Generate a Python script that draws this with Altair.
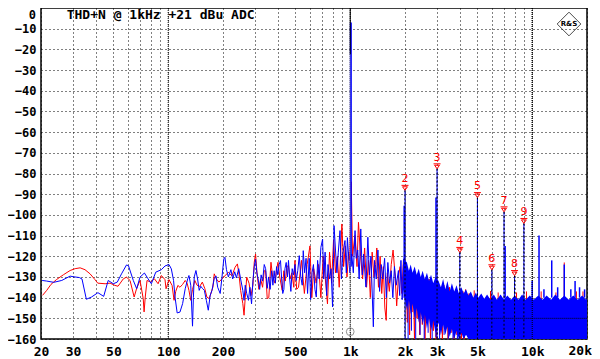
import altair as alt
import pandas as pd

TITLE = "THD+N @ 1kHz +21 dBu ADC"

X_GRID = [20, 30, 40, 50, 60, 70, 80, 90, 100, 200, 300, 400, 500, 600, 700, 800, 900,
          1000, 2000, 3000, 4000, 5000, 6000, 7000, 8000, 9000, 10000, 20000]
X_LABELS = [20, 30, 50, 100, 200, 500, 1000, 2000, 3000, 5000, 10000, 20000]
Y_TICKS = [0, -10, -20, -30, -40, -50, -60, -70, -80, -90, -100, -110, -120, -130, -140, -150, -160]
DECADES = [100, 1000, 10000]

# ---- blue trace (Hz, dBr) ----
blue_f = [20.3, 21.5, 23.5, 26.0, 28.9, 30.1, 32.5, 33.6, 35.5, 37.9, 41.1, 44.2, 46.8, 49.9, 52.5,
          55.4, 59.0, 60.5, 64.3, 67.1, 70.0, 74.0, 77.5, 80.8, 85.4, 91.7, 96.0, 101, 104, 107,
          109, 112, 116, 120, 124, 128, 130, 133, 136, 137.5, 139, 142, 145, 148, 151, 154, 158,
          162, 166, 170, 174, 179, 183, 187, 193, 197, 202, 205, 209, 214, 221, 226, 232, 237,
          244, 250, 257, 261, 265, 270, 276, 281, 287, 292, 297, 302, 307, 312, 318, 324, 330,
          337, 343, 350, 356, 363, 370, 376, 382, 388, 394, 400, 407, 414, 420, 426, 432, 438,
          445, 452, 458, 465, 472, 480, 488, 497, 505, 515, 525, 535, 545, 552, 562, 572, 583,
          595, 606, 617, 628, 640, 651, 662, 675, 690, 705, 715, 728, 742, 755, 770, 785, 800,
          810, 815, 830, 845, 860, 879, 895, 910, 936, 952, 965, 980, 995, 1020, 1040, 1063,
          1080, 1100, 1120, 1143, 1165, 1185, 1220, 1250, 1275, 1300, 1340, 1360, 1390, 1420,
          1450, 1480, 1510, 1545, 1580, 1610, 1645, 1680, 1715, 1750, 1790, 1840, 1870, 1900,
          1930, 1960]
blue_db = [-131.7, -132.0, -132.6, -131.7, -129.6, -129.9, -130.3, -131, -140.8, -139.7, -137.6,
           -139.4, -131.7, -133.3, -132.5, -128.5, -124.2, -124.6, -131.7, -135.7, -130.1, -128.1,
           -130.9, -133.3, -127.7, -126.5, -124.7, -124.0, -126.1, -131.7, -139.7, -147.4, -147.0,
           -142.9, -135.7, -130.9, -129.3, -134, -153.8, -140, -130, -126.9, -131, -136.5, -134.5,
           -135.5, -136.5, -141.3, -146.1, -139, -136.5, -130.9, -129.5, -135, -138, -131, -121.3,
           -120.5, -126.5, -130, -126.5, -131, -127.5, -130.5, -126, -131, -136.5, -141.3, -134,
           -138, -141.3, -135, -143, -132, -125, -121.5, -128, -131, -136, -129, -132, -124, -126,
           -135.5, -130, -136, -127, -134, -127, -133, -125, -129, -124, -122.1, -131, -138, -136,
           -126, -123, -130, -122, -131, -137, -126, -129, -124, -131.7, -127, -119.7, -130, -134,
           -117.3, -128, -121, -138, -121, -141, -128, -124, -136, -139.7, -122, -131, -115.7,
           -111.7, -131, -118, -139, -124, -131, -126, -144.5, -121, -105.2, -117, -128, -118,
           -107.6, -131, -119, -112.4, -128, -111, -120, -128, -118.9, -128, -107.6, -121, -117,
           -131, -106.8, -129, -119, -134.9, -110.8, -129, -120, -154.1, -122, -131, -117, -137,
           -124, -131, -121, -140, -123, -133, -127, -140, -125, -134, -126.9, -139, -122, -141,
           -124]

# ---- red trace (Hz, dBr) ----
red_f = [20.4, 21.5, 22.7, 24.3, 26.6, 28.9, 30.8, 32.8, 34.9, 37.2, 39.6, 41, 45, 47.9, 51, 53,
         56.7, 59, 61.7, 65, 67, 70, 72.9, 73.7, 74.8, 76.5, 80, 84, 88, 91.7, 96, 97.3, 101, 105,
         107.7, 110, 113, 116, 120, 124, 127, 130, 133, 136, 140, 144, 149, 154, 159, 163, 168,
         176, 179, 184, 190, 197, 205, 214, 224, 233, 240, 245, 250, 257, 261, 265, 270, 278, 285,
         292, 297, 302, 308, 315, 322, 330, 337, 343, 350, 357, 362, 367, 375, 386, 393, 401, 410,
         423, 432, 440, 449, 458, 467, 478, 490, 497, 508, 520, 540, 560, 580, 601, 615, 630, 650,
         670, 690, 710, 730, 750, 770, 790, 810, 830, 850, 870, 900, 920, 940, 960, 980, 995, 1013,
         1030, 1060, 1090, 1110, 1140, 1170, 1200, 1230, 1260, 1290, 1320, 1350, 1380, 1400, 1430,
         1460, 1490, 1520, 1550, 1577, 1600, 1640, 1680, 1720, 1760, 1800, 1840, 1880, 1920, 1960,
         2030, 2060, 2090, 2120, 2150, 2185, 2220, 2255, 2290, 2330, 2370, 2410, 2450, 2490, 2530,
         2575, 2620, 2665, 2710, 2760, 2810, 2860, 2910, 2965, 3050, 3100, 3150, 3210, 3270, 3330,
         3390, 3450, 3510, 3580, 3650, 3720, 3790, 3860, 3930, 4080, 4160, 4240, 4320, 4410, 4500,
         4600, 4700, 4800, 4900, 5050]
red_db = [-138.9, -136.5, -133.6, -131.3, -128.9, -126.9, -126, -125.6, -126.5, -128.5, -131.3, -133,
          -133.3, -133, -134.1, -134.5, -130.9, -130.1, -131.7, -139.7, -135.7, -131.7, -140.5,
          -146.9, -139.7, -131.7, -132.5, -130.9, -133.3, -129.3, -131.3, -135.7, -131.3, -134.1,
          -141.3, -137, -134.1, -135, -133.6, -131.7, -133, -136.5, -141.3, -136, -131.7, -134,
          -134.6, -132.5, -135.7, -139.7, -140.5, -134.9, -128.5, -131, -132.5, -131, -129.5,
          -127.7, -129.5, -125.3, -123.7, -129, -136.5, -142.9, -148.5, -140, -130.1, -133, -139,
          -134, -122.9, -118.9, -129, -136, -131, -135, -127, -127, -140.5, -140, -131, -122.9,
          -130, -133, -127, -122.9, -130, -136.5, -127, -132, -125, -124.5, -131, -128, -135, -122,
          -136, -135, -122, -138, -124, -115, -140, -126, -133, -124, -140, -120, -131, -143, -118,
          -133, -112, -128, -120, -135, -104.4, -125, -115, -130, -118, -122, -84, -120, -110, -125,
          -103.6, -120, -131, -116, -135, -122, -140, -118, -130, -124, -116, -135, -120, -138,
          -125, -145, -151, -128, -137, -124, -117, -128, -144, -130, -125, -138, -122,
          -127, -152, -130, -158, -128, -147, -131, -160, -130, -150, -129, -158, -132, -153, -130,
          -160, -133, -149, -131, -160, -134, -156, -132, -160, -133, -158, -135, -160, -134, -152,
          -136, -160, -135, -157, -137, -160, -136, -158, -138, -160, -137, -160, -139, -158, -138,
          -160, -140, -160, -139, -160]

# ---- dense blue noise band above 2 kHz (Hz, upper dB, lower dB) ----
band_f = [1950, 2050, 2100, 2150, 2200, 2260, 2320, 2380, 2440, 2500, 2570, 2640, 2710, 2780, 2860,
          2940, 3060, 3150, 3240, 3330, 3420, 3520, 3620, 3730, 3840, 3950, 4080, 4200, 4330, 4460,
          4600, 4750, 4900, 5050, 5250, 5450, 5650, 5900, 6150, 6400, 6700, 7000, 7300, 7650, 8000,
          8400, 8800, 9200, 9700, 10200, 10800, 11400, 12000, 12700, 13400, 14200, 15000, 15900,
          16800, 17800, 18800, 19800, 20000]
band_top = [-121, -123, -127, -124, -128, -125, -129, -126, -130, -127, -131, -128, -132, -129, -133,
            -130, -132, -135, -131, -136, -132, -137, -133, -137, -134, -138, -135, -138, -136, -139,
            -137, -140, -137.5, -140, -138, -140.5, -138.5, -141, -138.5, -141, -138.5, -141, -139,
            -141, -139, -141, -138.5, -141, -139, -141, -139, -141, -139, -141, -138.5, -141, -139,
            -141, -139, -141, -139, -141, -140]
band_bot = [-136, -146, -141, -148, -143, -150, -145, -152, -147, -153, -148, -155, -150, -156, -151,
            -157, -152, -158, -153, -158, -154, -159, -155, -160, -156, -160, -157, -160, -158, -160,
            -160, -160, -160, -160, -160, -160, -160, -160, -160, -160, -160, -160, -160, -160, -160,
            -160, -160, -160, -160, -160, -160, -160, -160, -160, -160, -160, -160, -160, -160, -160,
            -160, -160, -160]

# deep blue noise lines inside the band region
deep_f = [2080, 2170, 2290, 2420, 2550, 2680, 2820, 2960, 3100, 3280, 3460, 3670, 3880]
deep_hi = [-140, -140, -140, -140, -140, -140, -140, -140, -140, -140, -140, -140, -140]
deep_lo = [-160, -156, -160, -158, -160, -157, -160, -159, -160, -158, -160, -160, -160]

# isolated blue spurs
bs_f = [1980, 2960, 7100, 10000, 10900, 11600, 12800, 13800, 15000, 16300, 17200, 18200, 19400]
bs_hi = [-95.6, -91.6, -115, -132, -110, -136, -122, -135, -124, -136, -132, -135, -136]
bs_lo = [-140, -140, -140, -140, -140, -140, -140, -140, -140, -140, -140, -140, -140]

# red tips peeking above the band
rs_f = [4300, 4800, 5900, 6500, 8200, 9300, 11200, 13500, 15000, 17500, 19000]
rs_hi = [-136, -136.5, -136.8, -137.5, -137.5, -137, -137, -137.5, -123, -137, -137]
rs_lo = [-150, -150, -150, -150, -150, -150, -150, -150, -150, -150, -150]

# harmonics
harm_n = ["2", "3", "4", "5", "6", "7", "8", "9"]
harm_f = [2000, 3000, 4000, 5000, 6000, 7000, 8000, 9000]
harm_db = [-88.1, -77.7, -118.1, -91.6, -126.5, -98.5, -129.3, -104.1]
harm_lo = [-160, -160, -160, -160, -160, -160, -160, -160]

# fundamental (1 kHz)
fund_f = [1000]
fund_black_hi, fund_black_lo = [0], [-22.5]
fund_blue_f = [1008]
fund_blue_hi, fund_blue_lo = [-7], [-125]
cursor_f, cursor_hi, cursor_db = [1000], [-22.5], [-156.5]

# overlay cursor lines
over_v_f = [10000]
over_h_f, over_h_f2, over_h_db = [3700], [20000], [-150]

# ---------------------------------------------------------------
W, H = 546, 331
xs = alt.Scale(type="log", domain=[20, 20000], nice=False)
ys = alt.Scale(domain=[-160, 0], nice=False, zero=False)
lab_list = ",".join(str(v) for v in X_LABELS[:-1])
label_expr = ("indexof([" + lab_list + "], datum.value) >= 0 ? "
              "(datum.value >= 1000 ? (datum.value / 1000) + 'k' : '' + datum.value) : ''")
FONT = "DejaVu Sans Mono"
xaxis = alt.Axis(values=X_GRID, labelExpr=label_expr, title=None, grid=True, ticks=False,
                 domain=False, labelFont=FONT, labelFontWeight="bold", labelFontSize=13,
                 labelColor="black", labelPadding=6, gridColor="black", gridDash=[1, 3],
                 gridOpacity=1, labelFlush=False, labelOverlap=False)
yaxis = alt.Axis(values=Y_TICKS[1:], title=None, grid=True, ticks=False, domain=False,
                 labelFont=FONT, labelFontWeight="bold", labelFontSize=12, labelColor="black",
                 labelPadding=5, gridColor="black", gridDash=[1, 3], gridOpacity=1,
                 labelFlush=False, labelOverlap=False)


def X(field):
    return alt.X(field, type="quantitative", scale=xs, axis=xaxis)


def Y(field):
    return alt.Y(field, type="quantitative", scale=ys, axis=yaxis)


df_dec = pd.DataFrame({"f": DECADES, "hi": [0] * len(DECADES), "lo": [-160] * len(DECADES)})
df_blue = pd.DataFrame({"f": blue_f, "db": blue_db})
df_red = pd.DataFrame({"f": red_f, "db": red_db})
df_band = pd.DataFrame({"f": band_f, "top": band_top, "bot": band_bot})
df_deep = pd.DataFrame({"f": deep_f, "hi": deep_hi, "lo": deep_lo})
df_bs = pd.DataFrame({"f": bs_f, "hi": bs_hi, "lo": bs_lo})
df_rs = pd.DataFrame({"f": rs_f, "hi": rs_hi, "lo": rs_lo})
df_h = pd.DataFrame({"f": harm_f, "db": harm_db, "lo": harm_lo, "n": harm_n})
df_fb = pd.DataFrame({"f": fund_f, "hi": fund_black_hi, "lo": fund_black_lo})
df_fu = pd.DataFrame({"f": fund_blue_f, "hi": fund_blue_hi, "lo": fund_blue_lo})
df_cur = pd.DataFrame({"f": cursor_f, "hi": cursor_hi, "lo": cursor_db})
df_ov = pd.DataFrame({"f": over_v_f, "hi": [0], "lo": [-160]})
df_oh = pd.DataFrame({"f": over_h_f, "f2": over_h_f2, "db": over_h_db})
last_lab = str(X_LABELS[-1] // 1000) + "k"
df_t = pd.DataFrame({"t": [TITLE], "logo": ["R&S"], "zero": [str(Y_TICKS[0])], "last": [last_lab]})

decade = alt.Chart(df_dec).mark_rule(color="black", strokeWidth=1, strokeDash=[1, 1]).encode(
    x=X("f"), y=Y("hi"), y2="lo")
red_line = alt.Chart(df_red).mark_line(color="#ff0000", strokeWidth=1).encode(x=X("f"), y=Y("db"))
red_sp = alt.Chart(df_rs).mark_rule(color="#ff0000", strokeWidth=1).encode(x=X("f"), y=Y("hi"), y2="lo")
blue_line = alt.Chart(df_blue).mark_line(color="#0000ff", strokeWidth=1).encode(x=X("f"), y=Y("db"))
band = alt.Chart(df_band).mark_area(color="#0000ff", opacity=1, interpolate="linear").encode(
    x=X("f"), y=Y("top"), y2="bot")
deep = alt.Chart(df_deep).mark_rule(color="#0000ff", strokeWidth=1).encode(x=X("f"), y=Y("hi"), y2="lo")
bsp = alt.Chart(df_bs).mark_rule(color="#0000ff", strokeWidth=1.5).encode(x=X("f"), y=Y("hi"), y2="lo")
h_blue = alt.Chart(df_h).mark_rule(color="#0000ff", strokeWidth=1).encode(x=X("f"), y=Y("db"), y2="lo")
h_black = alt.Chart(df_h).mark_rule(color="#000000", strokeWidth=1, strokeDash=[2, 2]).encode(
    x=X("f"), y=Y("db"), y2="lo")
f_blue = alt.Chart(df_fu).mark_rule(color="#0000ff", strokeWidth=2).encode(x=X("f"), y=Y("hi"), y2="lo")
f_black = alt.Chart(df_fb).mark_rule(color="#000000", strokeWidth=1).encode(x=X("f"), y=Y("hi"), y2="lo")
cursor = alt.Chart(df_cur).mark_rule(color="#9a9a9a", strokeWidth=1, strokeDash=[1, 1]).encode(
    x=X("f"), y=Y("hi"), y2="lo")
circ = alt.Chart(df_cur).mark_point(shape="circle", size=60, filled=False, color="#666666",
                                    strokeWidth=1).encode(x=X("f"), y=Y("lo"))
ov_v = alt.Chart(df_ov).mark_rule(color="black", strokeWidth=1, strokeDash=[1, 1]).encode(
    x=X("f"), y=Y("hi"), y2="lo")
ov_h = alt.Chart(df_oh).mark_rule(color="black", strokeWidth=1, strokeDash=[1, 1]).encode(
    x=X("f"), x2="f2", y=Y("db"))
marker_path = "M -1 -1.4 L 1 -1.4 M -0.7 -1 L 0.7 -1 L 0 0 Z"
h_mark = alt.Chart(df_h).mark_point(shape=marker_path, size=49, filled=False, color="#ff0000",
                                    strokeWidth=1, opacity=1).encode(x=X("f"), y=Y("db"))
h_text = alt.Chart(df_h).mark_text(color="#ff0000", fontSize=11, font="DejaVu Sans", dy=-11,
                                   baseline="middle").encode(x=X("f"), y=Y("db"), text="n:N")
title = alt.Chart(df_t).mark_text(align="left", baseline="alphabetic", font=FONT, fontWeight="bold",
                                  fontSize=13, color="black").encode(
    x=alt.value(25.7), y=alt.value(11), text="t:N")
zero_lab = alt.Chart(df_t).mark_text(align="right", baseline="top", font=FONT, fontWeight="bold",
                                     fontSize=12, color="black").encode(
    x=alt.value(-5), y=alt.value(2), text="zero:N")
last_x = alt.Chart(df_t).mark_text(align="right", baseline="top", font=FONT, fontWeight="bold",
                                   fontSize=13, color="black").encode(
    x=alt.value(W + 5), y=alt.value(H + 6), text="last:N")
logo = alt.Chart(df_t).mark_point(shape="diamond", size=560, filled=False, color="black",
                                  strokeWidth=1).encode(x=alt.value(528), y=alt.value(16))
logo_t = alt.Chart(df_t).mark_text(font="DejaVu Sans", fontSize=7, fontWeight="bold",
                                   color="black").encode(x=alt.value(528), y=alt.value(16), text="logo:N")

chart = alt.layer(
    decade, red_line, red_sp, blue_line, band, deep, bsp, h_blue, h_black,
    f_blue, f_black, cursor, circ, ov_v, ov_h, h_mark, h_text, title, zero_lab, last_x, logo, logo_t
).properties(
    width=W, height=H,
    padding={"left": 33, "top": 0, "right": 5, "bottom": 20},
    autosize=alt.AutoSizeParams(type="none"),
    background="white",
).configure_view(stroke="black", strokeWidth=1.5)

chart.save("out.html", embed_options={"renderer": "svg", "actions": False})
